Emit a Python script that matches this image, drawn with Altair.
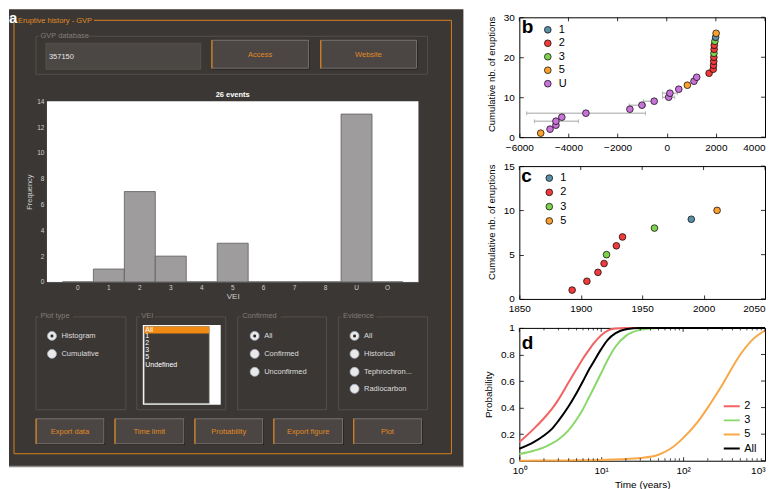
import altair as alt
import pandas as pd

FONT = "Liberation Sans"

# ---------------- data ----------------
# panel a: histogram of eruptions per VEI class
vei_cats = ["0", "1", "2", "3", "4", "5", "6", "7", "8", "U", "O"]
vei_freq = [0, 1, 7, 2, 0, 3, 0, 0, 0, 13, 0]
freq_ticks = [0, 2, 4, 6, 8, 10, 12, 14]

# panel b: full cumulative record
b_year = [-5130, -4750, -4510, -4510, -4270, -3290, -1500, -1010, -510, 80, 130, 490,
          840, 1110, 1220, 1724, 1893, 1905, 1914, 1919, 1921, 1929, 1934, 1960, 1990, 2011]
b_count = [1, 2, 3, 4, 5, 6, 7, 8, 9, 10, 11, 12, 13, 14, 15, 16, 17, 18, 19, 20,
           21, 22, 23, 24, 25, 26]
b_vei = ["5", "U", "U", "U", "U", "U", "U", "U", "U", "U", "U", "U", "5", "U", "U",
         "2", "2", "2", "2", "2", "3", "2", "2", "3", "1", "5"]
b_err_count = [4, 6, 8, 9, 10, 11]
b_err_lo = [-5390, -5700, -1530, -950, -170, -170]
b_err_hi = [-3600, -865, -860, -470, 330, 430]

# panel c: record since 1850
c_year = [1893, 1905, 1914, 1919, 1921, 1929, 1934, 1960, 1990, 2011]
c_count = [1, 2, 3, 4, 5, 6, 7, 8, 9, 10]
c_vei = ["2", "2", "2", "2", "3", "2", "2", "3", "1", "5"]

# panel d: probability of at least one eruption within time t
d_t_2 = [1, 1.5, 2, 2.5, 3, 4, 5, 6, 7, 8, 10, 12, 15, 20, 50, 100, 1000]
d_p_2 = [0.14, 0.24, 0.32, 0.39, 0.46, 0.59, 0.69, 0.77, 0.83, 0.88, 0.945, 0.98, 0.995, 1, 1, 1, 1]
d_t_3 = [1, 1.5, 2, 2.5, 3, 4, 5, 6, 7, 8, 10, 12, 15, 20, 30, 50, 100, 1000]
d_p_3 = [0.05, 0.075, 0.10, 0.13, 0.16, 0.23, 0.31, 0.39, 0.47, 0.54, 0.66, 0.76, 0.86, 0.94, 0.985, 1, 1, 1]
d_t_5 = [1, 2, 3, 5, 10, 15, 20, 30, 50, 70, 100, 150, 200, 300, 500, 700, 1000]
d_p_5 = [0, 0.001, 0.002, 0.003, 0.006, 0.01, 0.013, 0.02, 0.045, 0.09, 0.17, 0.29, 0.40, 0.57, 0.80, 0.91, 0.98]
d_t_all = [1, 1.5, 2, 2.5, 3, 4, 5, 6, 7, 8, 10, 12, 15, 20, 30, 50, 100, 1000]
d_p_all = [0.09, 0.14, 0.19, 0.24, 0.30, 0.41, 0.51, 0.60, 0.68, 0.74, 0.84, 0.91, 0.96, 0.99, 1, 1, 1, 1]

vei_cls = ["1", "2", "3", "5", "U"]
vei_col = ["#5b8fa6", "#ee3b3b", "#80d050", "#f8a030", "#c873d8"]
d_series = ["2", "3", "5", "All"]
d_col = ["#f26262", "#8ad86a", "#f9a848", "#000000"]

# ---------------- panel a: GUI window + histogram ----------------
GX, GY = 8, 16            # origin of the GUI view on the page
GW, GH = 455, 450         # GUI view size
HX1, HX2, HY1, HY2 = 46, 418, 100, 281   # histogram plot area on the page

BG = "#3b3734"
BOXLINE = "#544f4c"
GREYTXT = "#827c79"
ORANGE = "#d8801c"
ORTXT = "#e08a24"
BTNF = "#4b4643"
BTNE = "#85807c"
LIGHT = "#dedede"

rects, texts, radios = [], [], []


def R(x1, y1, x2, y2, fill="transparent", stroke="transparent", sw=1.0):
    rects.append(dict(x=x1 - GX, y=y1 - GY, x2=x2 - GX, y2=y2 - GY, fill=fill, stroke=stroke, sw=sw))


def T(s, x, y, color, size=7.5, align="left", weight="normal"):
    texts.append(dict(s=s, x=x - GX, y=y - GY, c=color, fs=size, al=align, wt=weight))


def BTN(x1, y1, x2, y2, label):
    R(x1 + 1, y1 + 1, x2 + 1.2, y2 + 1.2, "#211e1c")
    R(x1, y1, x2, y2, BTNF, BTNE, 0.8)
    R(x1 - 0.4, y1, x1 + 0.8, y2, ORANGE)
    T(label, (x1 + x2) / 2, (y1 + y2) / 2 + 0.5, ORTXT, 7.5, "center")


def GROUP(x1, y1, x2, y2, title, tw):
    R(x1, y1, x2, y2, stroke=BOXLINE, sw=1)
    R(x1 + 3, y1 - 4, x1 + 5 + tw, y1 + 3, BG)
    T(title, x1 + 4.5, y1 - 0.5, GREYTXT)


R(8, 8, 463, 466, BG, sw=0)
R(8, 465, 463, 466.5, "#8e8a88", sw=0)
R(13, 19, 451, 453, stroke=ORANGE, sw=1)
R(15.5, 14, 93, 24, BG)
T("Eruptive history - GVP", 17, 19.5, ORTXT, 7.5)
T("a", 8, 16.5, "white", 15, "left", "bold")

GROUP(35, 35, 427, 73, "GVP database", 46)
R(45, 42, 200, 68, "#4b4744", "#5a5552", 0.8)
T("357150", 48, 55.5, "#e6e6e6", 7.5)
BTN(211, 39, 308, 67, "Access")
BTN(320, 39, 416, 67, "Website")

R(HX1, HY1, HX2, HY2, "white")
T("26 events", (HX1 + HX2) / 2, 94, "white", 7.5, "center", "bold")

GROUP(35, 316, 125, 409, "Plot type", 32)
GROUP(136, 316, 225, 409, "VEI", 13)
GROUP(237, 316, 326, 409, "Confirmed", 38)
GROUP(338, 316, 427, 409, "Evidence", 33)

R(142, 324, 220, 404, "white")
R(143.5, 325.5, 208.5, 402.5, "#3d3937", "#8a8a8a", 0.6)
R(143.5, 325.5, 208.5, 332.5, "#f08a12")
for lab, yy in zip(["All", "1", "2", "3", "5", "Undefined"], [329, 335.5, 342.5, 349.5, 356.5, 364]):
    T(lab, 144.5, yy, "white", 7)

for lab, xx, yy, sel in [("Histogram", 51, 335, True), ("Cumulative", 51, 353, False),
                         ("All", 254, 335, True), ("Confirmed", 254, 353, False),
                         ("Unconfirmed", 254, 371, False),
                         ("All", 354, 335, True), ("Historical", 354, 353, False),
                         ("Tephrochron...", 354, 371, False), ("Radiocarbon", 354, 388, False)]:
    radios.append(dict(x=xx - GX, y=yy - GY, sel=sel))
    T(lab, xx + 9.5, yy + 0.5, LIGHT, 7.5)

for (x1, x2), lab in zip([(35, 103), (114, 183), (194, 262), (273, 342), (353, 421)],
                         ["Export data", "Time limit", "Probability", "Export figure", "Plot"]):
    BTN(x1, 418, x2, 443, lab)

rect_df = pd.DataFrame(rects)
text_df = pd.DataFrame(texts)
radio_df = pd.DataFrame(radios)

px = dict(scale=None, axis=None)

gui_rects = alt.Chart(rect_df).mark_rect().encode(
    x=alt.X("x:Q", **px), x2="x2:Q",
    y=alt.Y("y:Q", **px), y2="y2:Q",
    fill=alt.Fill("fill:N", scale=None, legend=None),
    stroke=alt.Stroke("stroke:N", scale=None, legend=None),
    strokeWidth=alt.StrokeWidth("sw:Q", scale=None, legend=None),
)

text_layers = []
for (al, wt), sub in text_df.groupby(["al", "wt"]):
    text_layers.append(
        alt.Chart(sub).mark_text(align=al, baseline="middle", font=FONT, fontWeight=wt).encode(
            x=alt.X("x:Q", **px), y=alt.Y("y:Q", **px), text="s:N",
            color=alt.Color("c:N", scale=None, legend=None),
            size=alt.Size("fs:Q", scale=None, legend=None),
        )
    )

radio_base = alt.Chart(radio_df).encode(x=alt.X("x:Q", **px), y=alt.Y("y:Q", **px))
radio_circ = radio_base.mark_circle(size=80, fill="#e9e9ea", stroke="#a9b3c2", strokeWidth=0.8, opacity=1)
radio_dot = radio_base.transform_filter("datum.sel").mark_circle(size=9, fill="#2a2a2a", opacity=1)

hist_df = pd.DataFrame({"vei": vei_cats, "freq": vei_freq})
bars = alt.Chart(hist_df).mark_bar(fill="#9e9c9c", stroke="#5e5c5c", strokeWidth=0.8).encode(
    x=alt.X("vei:N", sort=vei_cats,
            scale=alt.Scale(range=[HX1 - GX, HX2 - GX], paddingInner=0, paddingOuter=0.5),
            axis=alt.Axis(title="VEI", labelAngle=0, labelColor="#cfcfcf", labelFontSize=6.5,
                          labelFont=FONT, tickSize=0, labelPadding=3, domainColor="#555555",
                          titleColor="#cfcfcf", titleFontSize=8, titleFont=FONT,
                          titleFontWeight="normal", titlePadding=1, zindex=1,
                          offset=(HY2 - GY) - GH)),
    y=alt.Y("freq:Q", scale=alt.Scale(domain=[0, 14], nice=False, range=[HY2 - GY, HY1 - GY]),
            axis=alt.Axis(values=freq_ticks, title="Frequency", labelColor="#cfcfcf",
                          labelFontSize=6.5, labelFont=FONT, tickSize=0, labelPadding=3,
                          domain=False, grid=False, titleColor="#cfcfcf", titleFontSize=7.5,
                          titleFont=FONT, titleFontWeight="normal", titlePadding=3, zindex=1,
                          offset=-(HX1 - GX))),
)

left = alt.layer(gui_rects, *text_layers, radio_circ, radio_dot, bars).resolve_scale(
    x="independent", y="independent"
).properties(width=GW, height=GH,
             view=alt.ViewBackground(fill="transparent", stroke="transparent"))

# ---------------- right-hand panels ----------------
W = 246


def ax(values, title, fmt=None, expr=None, pad=5, tpad=6, tx=None, ty=None, tfs=10, last=None):
    kw = dict(values=values, offset=-4, tickSize=4, labelPadding=pad, titlePadding=tpad,
              domain=False, grid=False, tickColor="black", tickWidth=0.8,
              labelFont=FONT, labelFontSize=10, labelColor="black", labelFlush=False,
              labelOverlap=False, titleFont=FONT, titleFontSize=tfs,
              titleFontWeight="normal", titleColor="black")
    kw["title"] = title if title else ""
    if fmt:
        kw["format"] = fmt
    if expr:
        kw["labelExpr"] = expr
    if tx is not None:
        kw["titleX"] = tx
    if ty is not None:
        kw["titleY"] = ty
        kw["titleAlign"] = "right"
    if last is not None:
        kw["labelAlign"] = {"condition": {"test": "datum.value == %s" % last, "value": "right"},
                            "value": "center"}
    return alt.Axis(**kw)


def box_ticks(xvals, yvals, xs, ys, xa, ya, width, size=4):
    xt = alt.Chart(pd.DataFrame({"xv": xvals})).mark_rule(color="black", strokeWidth=0.8).encode(
        x=alt.X("xv:Q", scale=xs, axis=xa), y=alt.value(0), y2=alt.value(size))
    yt = alt.Chart(pd.DataFrame({"yv": yvals})).mark_rule(color="black", strokeWidth=0.8).encode(
        y=alt.Y("yv:Q", scale=ys, axis=ya), x=alt.value(width), x2=alt.value(width - size))
    return [xt, yt]


def letter(s, x, y):
    return alt.Chart(pd.DataFrame({"lab": [s]})).mark_text(
        align="left", baseline="alphabetic", fontSize=19, fontWeight="bold", font=FONT,
        color="black").encode(text="lab:N", x=alt.value(x), y=alt.value(y))


box_view = alt.ViewBackground(fill="white", stroke="black", strokeWidth=1)

# panel b
HB = 120
xb = alt.Scale(domain=[-6000, 4000], nice=False, zero=False)
yb = alt.Scale(domain=[0, 30], nice=False)
xb_ticks = [-6000, -4000, -2000, 0, 2000, 4000]
yb_ticks = [0, 10, 20, 30]
xb_ax = ax(xb_ticks, None, fmt="d", last=4000)
yb_ax = ax(yb_ticks, "Cumulative nb. of eruptions", tx=-27.3, ty=-1, tfs=9.5)
b_df = pd.DataFrame({"year": b_year, "n": b_count, "vei": b_vei})
be_df = pd.DataFrame({"lo": b_err_lo, "hi": b_err_hi, "n": b_err_count})
ERR = "#8c8c8c"
b_err = alt.Chart(be_df).mark_rule(color=ERR, strokeWidth=0.8).encode(
    x=alt.X("lo:Q", scale=xb, axis=xb_ax), x2="hi:Q", y=alt.Y("n:Q", scale=yb, axis=yb_ax))
b_cap1 = alt.Chart(be_df).mark_tick(orient="vertical", size=4, thickness=0.8, color=ERR).encode(
    x=alt.X("lo:Q", scale=xb, axis=xb_ax), y=alt.Y("n:Q", scale=yb, axis=yb_ax))
b_cap2 = alt.Chart(be_df).mark_tick(orient="vertical", size=4, thickness=0.8, color=ERR).encode(
    x=alt.X("hi:Q", scale=xb, axis=xb_ax), y=alt.Y("n:Q", scale=yb, axis=yb_ax))
b_pts = alt.Chart(b_df).mark_circle(size=45, stroke="black", strokeWidth=0.7, opacity=1).encode(
    x=alt.X("year:Q", scale=xb, axis=xb_ax),
    y=alt.Y("n:Q", scale=yb, axis=yb_ax),
    fill=alt.Fill("vei:N", scale=alt.Scale(domain=vei_cls, range=vei_col),
                  legend=alt.Legend(title=None, orient="none", legendX=23, legendY=7,
                                    labelFont=FONT, labelFontSize=11, symbolSize=45,
                                    symbolType="circle", symbolStrokeColor="black",
                                    symbolStrokeWidth=0.7, rowPadding=1.5, labelOffset=5.5,
                                    padding=0)),
)
panel_b = alt.layer(b_err, b_cap1, b_cap2, b_pts, letter("b", 2.5, 16),
                    *box_ticks(xb_ticks, yb_ticks, xb, yb, xb_ax, yb_ax, W)
                    ).properties(width=W, height=HB, view=box_view)

# panel c
xc = alt.Scale(domain=[1850, 2050], nice=False, zero=False)
yc = alt.Scale(domain=[0, 15], nice=False)
xc_ticks = [1850, 1900, 1950, 2000, 2050]
yc_ticks = [0, 5, 10, 15]
xc_ax = ax(xc_ticks, None, fmt="d", last=2050)
yc_ax = ax(yc_ticks, "Cumulative nb. of eruptions", tx=-27.3, ty=-2, tfs=9.5)
c_df = pd.DataFrame({"year": c_year, "n": c_count, "vei": c_vei})
c_pts = alt.Chart(c_df).mark_circle(size=45, stroke="black", strokeWidth=0.7, opacity=1).encode(
    x=alt.X("year:Q", scale=xc, axis=xc_ax),
    y=alt.Y("n:Q", scale=yc, axis=yc_ax),
    fill=alt.Fill("vei:N", scale=alt.Scale(domain=vei_cls[:4], range=vei_col[:4]),
                  legend=alt.Legend(title=None, orient="none", legendX=24.5, legendY=6.5,
                                    labelFont=FONT, labelFontSize=11, symbolSize=45,
                                    symbolType="circle", symbolStrokeColor="black",
                                    symbolStrokeWidth=0.7, rowPadding=2.3, labelOffset=5.5,
                                    padding=0)),
)
panel_c = alt.layer(c_pts, letter("c", 2, 15.5),
                    *box_ticks(xc_ticks, yc_ticks, xc, yc, xc_ax, yc_ax, W)
                    ).properties(width=W, height=133, view=box_view)

# panel d
HD = 133
xd = alt.Scale(type="log", domain=[1, 1000], nice=False)
yd = alt.Scale(domain=[0, 1], nice=False)
xd_ticks = [1, 10, 100, 1000]
yd_ticks = [0, 0.2, 0.4, 0.6, 0.8, 1]
sup = "'10' + ['\u2070', '\u00b9', '\u00b2', '\u00b3'][round(log(datum.value) / LN10)]"
xd_ax = ax(xd_ticks, "Time (years)", expr=sup, tpad=4, last=1000)
yd_ax = ax(yd_ticks, "Probability", fmt="~g", tx=-30)
rows = []
for s, ts, ps in [("2", d_t_2, d_p_2), ("3", d_t_3, d_p_3), ("5", d_t_5, d_p_5), ("All", d_t_all, d_p_all)]:
    for t, p in zip(ts, ps):
        rows.append({"series": s, "t": t, "p": p})
d_df = pd.DataFrame(rows)
d_lines = alt.Chart(d_df).mark_line(strokeWidth=2, interpolate="monotone").encode(
    x=alt.X("t:Q", scale=xd, axis=xd_ax),
    y=alt.Y("p:Q", scale=yd, axis=yd_ax),
    color=alt.Color("series:N", scale=alt.Scale(domain=d_series, range=d_col),
                    legend=alt.Legend(title=None, orient="none", legendX=203.7, legendY=73,
                                      labelFont=FONT, labelFontSize=11, symbolType="stroke",
                                      symbolSize=256, symbolStrokeWidth=2, rowPadding=2.1,
                                      clipHeight=11, labelOffset=3.5, padding=0)),
    order=alt.Order("t:Q"),
)
minor = [2, 3, 4, 5, 6, 7, 8, 9, 20, 30, 40, 50, 60, 70, 80, 90, 200, 300, 400, 500, 600, 700, 800, 900]
d_minor_b = alt.Chart(pd.DataFrame({"xv": minor})).mark_rule(color="black", strokeWidth=0.7).encode(
    x=alt.X("xv:Q", scale=xd, axis=xd_ax), y=alt.value(HD), y2=alt.value(HD - 2.5))
d_minor_t = alt.Chart(pd.DataFrame({"xv": minor})).mark_rule(color="black", strokeWidth=0.7).encode(
    x=alt.X("xv:Q", scale=xd, axis=xd_ax), y=alt.value(0), y2=alt.value(2.5))
panel_d = alt.layer(d_lines, d_minor_b, d_minor_t, letter("d", 2.5, 21),
                    *box_ticks(xd_ticks, yd_ticks, xd, yd, xd_ax, yd_ax, W)
                    ).properties(width=W, height=HD, view=box_view)

right = alt.vconcat(panel_b, panel_c, panel_d, spacing=7).resolve_scale(
    fill="independent", color="independent")

chart = alt.hconcat(left, right, spacing=18).properties(
    padding=0, background="white"
).configure(font=FONT)

chart.save("out.html", embed_options={"renderer": "svg", "actions": False})
